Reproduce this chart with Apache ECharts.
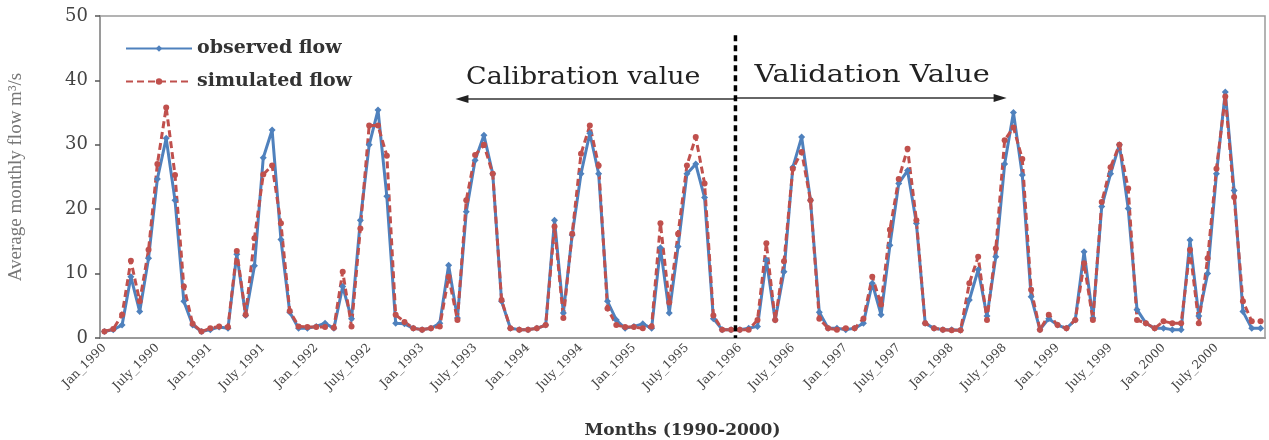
<!DOCTYPE html>
<html>
<head>
<meta charset="utf-8">
<script src="https://cdn.jsdelivr.net/npm/echarts@6/dist/echarts.min.js"></script>
<style>
html, body { margin: 0; padding: 0; background: #fff; }
#box { width: 1269px; height: 440px; }
</style>
</head>
<body>
<div id="box"></div>
<script>
var years = [1990, 1991, 1992, 1993, 1994, 1995, 1996, 1997, 1998, 1999, 2000];
var months = ['Jan', 'Feb', 'Mar', 'Apr', 'May', 'June', 'July', 'Aug', 'Sep', 'Oct', 'Nov', 'Dec'];

// observed flow, one row per year (Jan..Dec)
var observed = [
    [1.0, 1.3, 2.0, 9.5, 4.1, 12.4, 24.7, 31.0, 21.4, 5.7, 2.0, 1.0],
    [1.3, 1.7, 1.5, 13.0, 3.5, 11.2, 28.0, 32.3, 15.3, 4.0, 1.5, 1.5],
    [1.8, 2.3, 1.5, 8.0, 3.0, 18.3, 30.0, 35.4, 22.0, 2.3, 2.2, 1.5],
    [1.3, 1.5, 2.3, 11.3, 3.1, 19.6, 27.6, 31.5, 25.5, 5.7, 1.5, 1.3],
    [1.3, 1.5, 2.0, 18.3, 3.9, 16.0, 25.5, 31.8, 25.5, 5.7, 2.8, 1.5],
    [1.8, 2.2, 1.5, 14.0, 3.9, 14.2, 25.5, 27.0, 21.8, 3.0, 1.3, 1.3],
    [1.3, 1.5, 1.8, 12.1, 2.8, 10.3, 26.5, 31.2, 21.4, 4.0, 1.5, 1.5],
    [1.3, 1.5, 2.3, 8.5, 3.6, 14.4, 24.0, 26.0, 17.8, 2.3, 1.5, 1.3],
    [1.3, 1.2, 5.9, 10.6, 3.4, 12.6, 27.0, 35.0, 25.3, 6.4, 1.3, 3.0],
    [2.0, 1.5, 2.8, 13.4, 3.1, 20.4, 25.5, 30.0, 20.1, 4.4, 2.3, 1.5],
    [1.5, 1.3, 1.3, 15.2, 3.4, 10.0, 25.5, 38.2, 22.9, 4.1, 1.5, 1.5]
];

// simulated flow
var simulated = [
    [1.0, 1.4, 3.6, 12.0, 5.7, 13.7, 27.0, 35.8, 25.3, 8.0, 2.2, 1.0],
    [1.5, 1.8, 1.7, 13.5, 3.6, 15.5, 25.4, 26.8, 17.8, 4.2, 1.8, 1.7],
    [1.7, 1.7, 1.6, 10.3, 1.8, 17.0, 33.0, 33.0, 28.3, 3.6, 2.5, 1.5],
    [1.3, 1.5, 1.8, 9.5, 2.8, 21.4, 28.4, 30.0, 25.5, 5.9, 1.5, 1.3],
    [1.3, 1.5, 2.0, 17.3, 3.1, 16.2, 28.6, 33.0, 26.8, 4.6, 2.0, 1.7],
    [1.7, 1.5, 1.8, 17.8, 5.5, 16.2, 26.8, 31.2, 24.0, 3.5, 1.3, 1.3],
    [1.3, 1.3, 2.8, 14.7, 2.8, 11.9, 26.3, 28.9, 21.4, 3.0, 1.5, 1.3],
    [1.5, 1.5, 3.0, 9.5, 5.2, 16.8, 24.7, 29.4, 18.3, 2.3, 1.5, 1.3],
    [1.2, 1.2, 8.5, 12.6, 2.8, 13.9, 30.7, 32.7, 27.8, 7.5, 1.3, 3.6],
    [2.0, 1.5, 2.8, 11.6, 2.8, 21.1, 26.5, 30.0, 23.2, 2.8, 2.3, 1.5],
    [2.6, 2.3, 2.3, 13.7, 2.3, 12.4, 26.3, 37.5, 21.9, 5.7, 2.6, 2.6]
];

var yTicks = [0, 10, 20, 30, 40, 50];

var categories = [];
years.forEach(function (y) {
    months.forEach(function (m) { categories.push(m + '_' + y); });
});
var obsData = [].concat.apply([], observed);
var simData = [].concat.apply([], simulated);

var dom = document.getElementById('box');
var myChart = echarts.init(dom);
var serif = 'DejaVu Serif';

option = {
    backgroundColor: '#fff',
    animation: false,
    grid: {
        left: 100, right: 4, top: 16, bottom: 102,
        show: true, borderColor: '#9a9a9a', borderWidth: 1.5,
        outerBoundsMode: 'none'
    },
    legend: {
        orient: 'vertical',
        left: 120, top: 34,
        itemWidth: 66, itemHeight: 8, itemGap: 14,
        textStyle: { fontFamily: serif, fontWeight: 'bold', fontSize: 19, color: '#333' },
        data: ['observed flow', 'simulated flow']
    },
    xAxis: {
        type: 'category',
        data: categories,
        boundaryGap: true,
        name: 'Months (1990-2000)',
        nameLocation: 'middle',
        nameGap: 84,
        nameTextStyle: { fontFamily: serif, fontWeight: 'bold', fontSize: 17, color: '#333' },
        axisLine: { lineStyle: { color: '#9a9a9a', width: 2 } },
        axisTick: { interval: 3, length: 4, lineStyle: { color: '#555', width: 1.5 } },
        axisLabel: {
            interval: 5, rotate: 45, margin: 8,
            fontFamily: serif, fontSize: 12, color: '#444'
        }
    },
    yAxis: {
        type: 'value',
        min: 0, max: 50, interval: 10,
        name: 'Average monthly flow m³/s',
        nameLocation: 'middle',
        nameGap: 74,
        nameTextStyle: { fontFamily: 'Liberation Serif', fontSize: 19, color: '#777' },
        axisLine: { show: true, lineStyle: { color: '#9a9a9a', width: 2 } },
        axisTick: { show: true, length: 5, lineStyle: { color: '#555', width: 1.5 } },
        splitLine: { show: false },
        axisLabel: {
            margin: 12, fontFamily: serif, fontSize: 18, color: '#444',
            formatter: function (v) { return yTicks.indexOf(v) >= 0 ? String(v) : ''; }
        }
    },
    series: [
        {
            name: 'observed flow',
            type: 'line',
            data: obsData,
            symbol: 'diamond',
            symbolSize: 7,
            showAllSymbol: true,
            color: '#4F81BD',
            lineStyle: { width: 3, color: '#4F81BD' },
            itemStyle: { color: '#4F81BD' }
        },
        {
            name: 'simulated flow',
            type: 'line',
            data: simData,
            symbol: 'circle',
            symbolSize: 6,
            showAllSymbol: true,
            color: '#C0504D',
            lineStyle: { width: 3, type: [7, 4], color: '#C0504D' },
            itemStyle: { color: '#C0504D' }
        }
    ]
};
myChart.setOption(option);

// calibration / validation annotations
var xa = myChart.convertToPixel({ xAxisIndex: 0 }, categories[71]);
var xb = myChart.convertToPixel({ xAxisIndex: 0 }, categories[72]);
var divX = (xa + xb) / 2;
var y0 = myChart.convertToPixel({ yAxisIndex: 0 }, 0);
var yTop = myChart.convertToPixel({ yAxisIndex: 0 }, 47);
var yArrow = myChart.convertToPixel({ yAxisIndex: 0 }, 37.1);
var xLeft = myChart.convertToPixel({ xAxisIndex: 0 }, categories[40]);
var xRight = myChart.convertToPixel({ xAxisIndex: 0 }, categories[102]);

myChart.setOption({
    graphic: [
        { type: 'line', z: 100, shape: { x1: divX, y1: yTop, x2: divX, y2: y0 },
          style: { stroke: '#000', lineWidth: 3.5, lineDash: [6, 4] } },
        { type: 'line', z: 90, shape: { x1: divX, y1: yArrow, x2: xLeft + 8, y2: yArrow },
          style: { stroke: '#333', lineWidth: 1.5 } },
        { type: 'polygon', z: 90, shape: { points: [[xLeft - 2, yArrow], [xLeft + 11, yArrow - 4], [xLeft + 11, yArrow + 4]] },
          style: { fill: '#222' } },
        { type: 'line', z: 90, shape: { x1: divX, y1: yArrow - 1, x2: xRight - 8, y2: yArrow - 1 },
          style: { stroke: '#333', lineWidth: 1.5 } },
        { type: 'polygon', z: 90, shape: { points: [[xRight + 2, yArrow - 1], [xRight - 11, yArrow - 5], [xRight - 11, yArrow + 3]] },
          style: { fill: '#222' } },
        { type: 'text', z: 90, x: divX - 35, y: yArrow - 9, scaleX: 1.12,
          style: { text: 'Calibration value', fill: '#222', font: '24px "DejaVu Serif"',
                   textAlign: 'right', textVerticalAlign: 'bottom' } },
        { type: 'text', z: 90, x: divX + 19, y: yArrow - 11, scaleX: 1.2,
          style: { text: 'Validation Value', fill: '#222', font: '24px "DejaVu Serif"',
                   textAlign: 'left', textVerticalAlign: 'bottom' } }
    ]
});
</script>
</body>
</html>
